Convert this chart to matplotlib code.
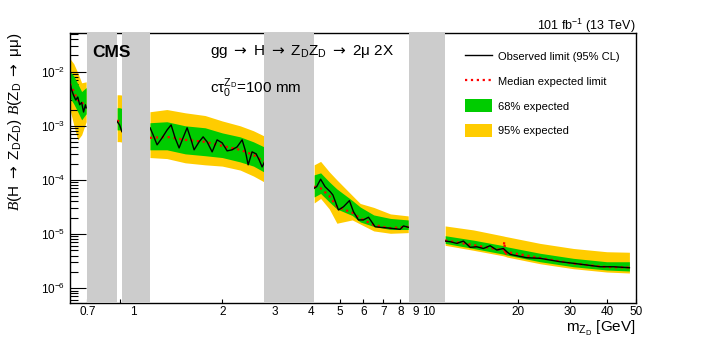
import matplotlib
matplotlib.use("Agg")
import matplotlib.pyplot as plt
from matplotlib.lines import Line2D
from matplotlib.patches import Patch

plt.rcParams['font.family'] = ['Liberation Sans', 'DejaVu Sans']
plt.rcParams['mathtext.fontset'] = 'custom'
plt.rcParams['mathtext.rm'] = 'Liberation Sans'
plt.rcParams['mathtext.it'] = 'Liberation Sans:italic'
plt.rcParams['mathtext.sf'] = 'DejaVu Sans'
plt.rcParams['mathtext.cal'] = 'Liberation Serif:italic'

# expected bands: mass, 95% lo, 68% lo, median, 68% hi, 95% hi  (one list per mass window)
s1_mass = [0.612, 0.63, 0.65, 0.67, 0.694]
s1_y95_lo = [1.98e-3, 1.04e-3, 5.5e-4, 6.8e-4, 1.19e-3]
s1_y68_lo = [3.3e-3, 2.55e-3, 1.82e-3, 1.29e-3, 1.67e-3]
s1_exp = [6.0e-3, 4.3e-3, 3.0e-3, 2.55e-3, 2.9e-3]
s1_y68_hi = [1.0e-2, 8.4e-3, 6.0e-3, 4.3e-3, 5.1e-3]
s1_y95_hi = [1.74e-2, 1.41e-2, 9.6e-3, 6.25e-3, 6.5e-3]
s1_obs_mass = [0.612, 0.62, 0.63, 0.64, 0.65, 0.66, 0.67, 0.68, 0.69, 0.694]
s1_obs = [6.25e-3, 4.6e-3, 3.6e-3, 3.0e-3, 3.4e-3, 2.45e-3, 2.7e-3, 1.8e-3, 2.45e-3, 2.15e-3]

s2_mass = [0.883, 0.90, 0.916]
s2_y95_lo = [5.1e-4, 5.1e-4, 5.0e-4]
s2_y68_lo = [8.4e-4, 8.4e-4, 8.3e-4]
s2_exp = [1.25e-3, 1.2e-3, 1.15e-3]
s2_y68_hi = [2.16e-3, 2.16e-3, 2.1e-3]
s2_y95_hi = [3.75e-3, 3.75e-3, 3.7e-3]
s2_obs_mass = [0.883, 0.90, 0.916]
s2_obs = [1.2e-3, 1.04e-3, 7.8e-4]

s3_mass = [1.14, 1.3, 1.5, 1.75, 2.0, 2.3, 2.55, 2.77]
s3_y95_lo = [2.59e-4, 2.48e-4, 2.07e-4, 1.9e-4, 1.8e-4, 1.52e-4, 1.18e-4, 9.2e-5]
s3_y68_lo = [3.6e-4, 3.6e-4, 3.03e-4, 2.8e-4, 2.59e-4, 2.15e-4, 1.8e-4, 1.4e-4]
s3_exp = [6.0e-4, 6.25e-4, 5.5e-4, 5.06e-4, 4.26e-4, 3.6e-4, 2.9e-4, 2.15e-4]
s3_y68_hi = [1.14e-3, 1.19e-3, 1.0e-3, 9.2e-4, 7.4e-4, 6.25e-4, 5.06e-4, 4.08e-4]
s3_y95_hi = [1.82e-3, 2.0e-3, 1.74e-3, 1.55e-3, 1.23e-3, 1.0e-3, 8.1e-4, 6.5e-4]
s3_obs_mass = [1.141, 1.168, 1.205, 1.253, 1.303, 1.344, 1.386, 1.430, 1.475, 1.522,
               1.570, 1.607, 1.671, 1.724, 1.778, 1.849, 1.922, 1.999, 2.078, 2.160,
               2.246, 2.335, 2.390, 2.447, 2.523, 2.604, 2.665, 2.728, 2.771]
s3_obs = [9.2e-4, 6.8e-4, 4.45e-4, 6.0e-4, 8.4e-4, 1.04e-3, 6.0e-4, 3.9e-4, 6.0e-4, 9.2e-4,
          5.5e-4, 3.6e-4, 5.06e-4, 6.25e-4, 5.06e-4, 3.3e-4, 5.5e-4, 4.84e-4, 3.44e-4, 3.6e-4,
          4.08e-4, 5.5e-4, 3.6e-4, 1.9e-4, 3.3e-4, 3.03e-4, 2.35e-4, 1.74e-4, 2.07e-4]

s4_mass = [4.09, 4.3, 4.6, 4.88, 5.5, 5.85, 6.5, 7.4, 8.5]
s4_y95_lo = [3.75e-5, 4.54e-5, 2.9e-5, 1.58e-5, 1.82e-5, 1.53e-5, 1.14e-5, 1.03e-5, 1.06e-5]
s4_y68_lo = [4.84e-5, 5.62e-5, 3.91e-5, 2.9e-5, 2.2e-5, 1.67e-5, 1.38e-5, 1.21e-5, 1.21e-5]
s4_exp = [7.5e-5, 7.0e-5, 5.06e-5, 3.2e-5, 2.48e-5, 1.95e-5, 1.47e-5, 1.28e-5, 1.36e-5]
s4_y68_hi = [1.24e-4, 1.35e-4, 9.2e-5, 6.8e-5, 4.17e-5, 3.16e-5, 2.25e-5, 1.94e-5, 1.82e-5]
s4_y95_hi = [1.9e-4, 2.2e-4, 1.41e-4, 1.0e-4, 5.16e-5, 3.67e-5, 3.1e-5, 2.35e-5, 2.16e-5]
s4_obs_mass = [4.09, 4.17, 4.30, 4.45, 4.63, 4.73, 4.94, 5.14, 5.38, 5.55,
               5.77, 6.0, 6.24, 6.57, 6.83, 7.39, 7.98, 8.19, 8.51]
s4_obs = [7.0e-5, 7.5e-5, 1.03e-4, 7.5e-5, 6.07e-5, 5.27e-5, 2.78e-5, 3.2e-5, 4.14e-5, 2.59e-5,
          1.82e-5, 1.82e-5, 2.04e-5, 1.36e-5, 1.33e-5, 1.28e-5, 1.22e-5, 1.41e-5, 1.33e-5]

s5_mass = [11.33, 14.11, 17.8, 17.95, 18.1, 18.3, 23.71, 30.73, 39.83, 47.5]
s5_y95_lo = [6.18e-6, 5.0e-6, 3.95e-6, 3.9e-6, 3.85e-6, 3.75e-6, 2.82e-6, 2.28e-6, 1.98e-6, 1.9e-6]
s5_y68_lo = [6.7e-6, 5.4e-6, 4.25e-6, 4.2e-6, 4.15e-6, 4.08e-6, 3.07e-6, 2.48e-6, 2.16e-6, 2.07e-6]
s5_exp = [7.6e-6, 6.25e-6, 5.0e-6, 7.2e-6, 4.0e-6, 4.64e-6, 3.6e-6, 2.84e-6, 2.45e-6, 2.4e-6]
s5_y68_hi = [9.3e-6, 7.7e-6, 6.1e-6, 6.0e-6, 5.9e-6, 5.8e-6, 4.4e-6, 3.55e-6, 3.07e-6, 3.07e-6]
s5_y95_hi = [1.41e-5, 1.19e-5, 9.2e-6, 9.1e-6, 9.0e-6, 8.9e-6, 6.7e-6, 5.4e-6, 4.7e-6, 4.6e-6]
s5_obs_mass = [11.33, 11.78, 12.41, 13.06, 13.76, 14.49, 15.26, 16.07, 16.93, 17.82,
               18.3, 18.78, 19.79, 21.38, 23.71, 25.63, 27.71, 30.73, 34.11, 37.82,
               41.94, 47.5]
s5_obs = [7.4e-6, 7.2e-6, 6.7e-6, 7.4e-6, 5.67e-6, 5.8e-6, 5.4e-6, 6.07e-6, 5.06e-6, 5.4e-6,
          4.7e-6, 4.2e-6, 3.96e-6, 3.64e-6, 3.55e-6, 3.3e-6, 3.07e-6, 2.87e-6, 2.67e-6, 2.48e-6,
          2.48e-6, 2.38e-6]

# vetoed mass windows (GeV)
veto_lo = [0.698, 0.916, 2.77, 8.56]
veto_hi = [0.883, 1.14, 4.09, 11.3]

segments = [
    (s1_mass, s1_y95_lo, s1_y68_lo, s1_exp, s1_y68_hi, s1_y95_hi, s1_obs_mass, s1_obs),
    (s2_mass, s2_y95_lo, s2_y68_lo, s2_exp, s2_y68_hi, s2_y95_hi, s2_obs_mass, s2_obs),
    (s3_mass, s3_y95_lo, s3_y68_lo, s3_exp, s3_y68_hi, s3_y95_hi, s3_obs_mass, s3_obs),
    (s4_mass, s4_y95_lo, s4_y68_lo, s4_exp, s4_y68_hi, s4_y95_hi, s4_obs_mass, s4_obs),
    (s5_mass, s5_y95_lo, s5_y68_lo, s5_exp, s5_y68_hi, s5_y95_hi, s5_obs_mass, s5_obs),
]

YELLOW = '#ffcc00'
GREEN = '#00cc00'
ARROW = r'$\mathsf{\rightarrow}$'

fig = plt.figure(figsize=(7.06, 3.38), dpi=100)
ax = fig.add_axes([70 / 706, 35 / 338, 566 / 706, 270 / 338])

for m, y95lo, y68lo, med, y68hi, y95hi, om, obs in segments:
    ax.fill_between(m, y95lo, y95hi, color=YELLOW, lw=0, zorder=1)
    ax.fill_between(m, y68lo, y68hi, color=GREEN, lw=0, zorder=2)
    ax.plot(m, med, color='red', ls=':', lw=1.6, zorder=3)
    ax.plot(om, obs, color='black', lw=1.0, zorder=4)

for lo, hi in zip(veto_lo, veto_hi):
    ax.axvspan(lo, hi, color='#cccccc', lw=0, zorder=5)

ax.set_xscale('log')
ax.set_yscale('log')
ax.set_xlim(0.612, 50)
ax.set_ylim(5.3e-7, 5.2e-2)

ax.set_xticks([1, 10], labels=['1', '10'])
minor_x = [0.7, 0.8, 0.9, 2, 3, 4, 5, 6, 7, 8, 9, 20, 30, 40, 50]
minor_lab = ['0.7', '', '', '2', '3', '4', '5', '6', '7', '8', '9', '20', '30', '40', '50']
ax.set_xticks(minor_x, labels=minor_lab, minor=True)
ax.tick_params(axis='x', which='both', direction='in', labelsize=8.5, pad=2,
               top=False, width=0.8)
ax.tick_params(axis='x', which='major', length=6)
ax.tick_params(axis='x', which='minor', length=3)

decades = [1e-6, 1e-5, 1e-4, 1e-3, 1e-2]
ax.set_yticks(decades, labels=['$10^{-6}$', '$10^{-5}$', '$10^{-4}$', '$10^{-3}$', '$10^{-2}$'])
ax.set_yticks([k * d for d in [1e-7] + decades for k in range(2, 10)
               if 5.3e-7 < k * d < 5.2e-2], minor=True)
ax.yaxis.set_minor_formatter(plt.NullFormatter())
ax.tick_params(axis='y', which='both', direction='in', labelsize=8.5, right=False, width=0.8)
ax.tick_params(axis='y', which='major', length=11.5)
ax.tick_params(axis='y', which='minor', length=5.5)
for s in ax.spines.values():
    s.set_linewidth(1.0)

ax.set_xlabel(r'm$_{\mathrm{Z}_{\mathrm{D}}}$ [GeV]', loc='right', fontsize=11, labelpad=1)
ax.set_ylabel(r'$\mathcal{B}$(H ' + ARROW + r' Z$_{\mathrm{D}}$Z$_{\mathrm{D}}$) $\mathcal{B}$(Z$_{\mathrm{D}}$ '
              + ARROW + ' μμ)', loc='top', fontsize=11, labelpad=12)

ax.text(0.039, 0.926, 'CMS', transform=ax.transAxes, fontsize=12.5, fontweight='bold',
        va='center', ha='left', zorder=6)
ax.text(0.247, 0.93, 'gg ' + ARROW + ' H ' + ARROW + r' Z$_{\mathrm{D}}$Z$_{\mathrm{D}}$ ' + ARROW + ' 2μ 2X',
        transform=ax.transAxes, fontsize=11, va='center', ha='left', zorder=6)
ax.text(0.247, 0.796, r'c$\mathrm{\tau}_0^{\mathrm{Z}_{\mathrm{D}}}$=100 mm', transform=ax.transAxes,
        fontsize=11, va='center', ha='left', zorder=6)
fig.text(636 / 706, 1 - 26 / 338, r'101 fb$^{-1}$ (13 TeV)', fontsize=9, ha='right', va='center')

handles = [Line2D([], [], color='black', lw=1.0),
           Line2D([], [], color='red', ls=':', lw=1.6),
           Patch(facecolor=GREEN, edgecolor='none'),
           Patch(facecolor=YELLOW, edgecolor='none')]
labels = ['Observed limit (95% CL)', 'Median expected limit', '68% expected', '95% expected']
fig.legend(handles, labels, loc='upper left', bbox_to_anchor=(465 / 706, 1 - 49.5 / 338),
           bbox_transform=fig.transFigure, frameon=False, fontsize=8, borderpad=0,
           borderaxespad=0, handlelength=2.4, handleheight=1.45, labelspacing=1.05,
           handletextpad=0.55)

fig.savefig('out.png', dpi=100)
